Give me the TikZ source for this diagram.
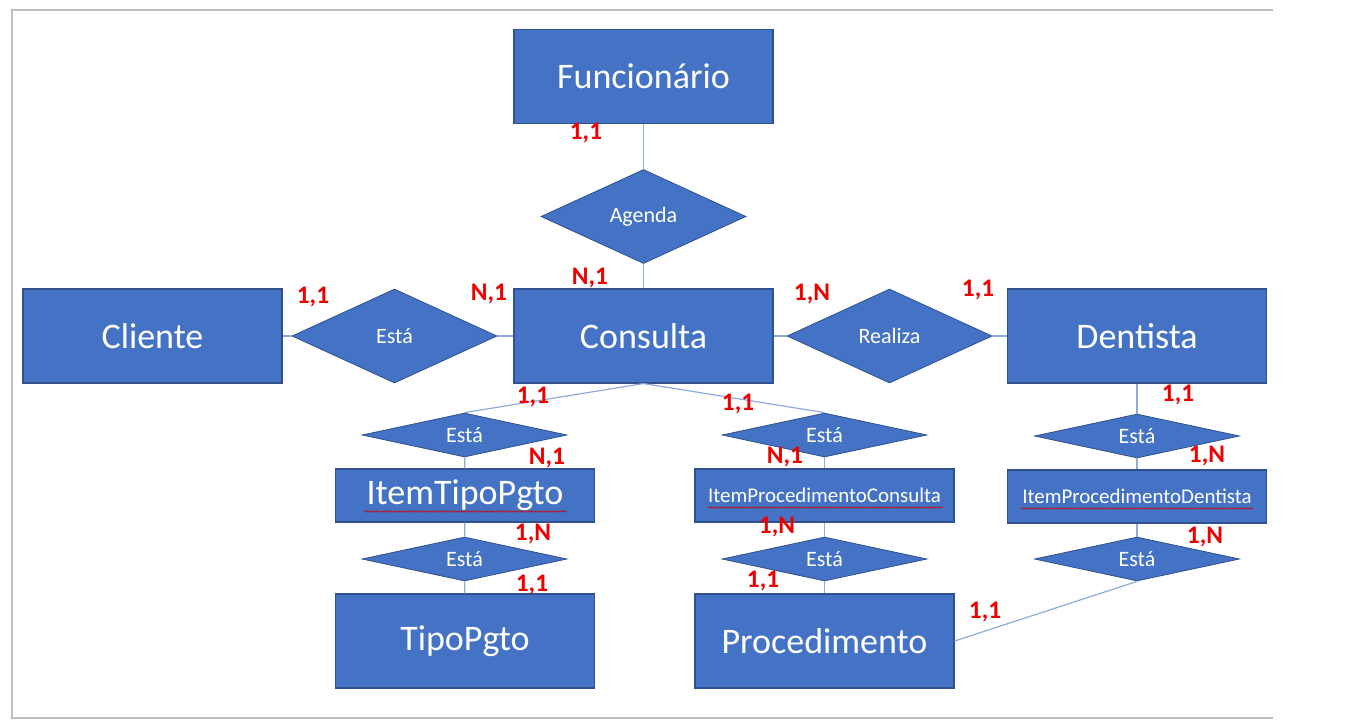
\documentclass[tikz,border=0pt]{standalone}
\usepackage{fontspec}
\setmainfont{Carlito}
\usetikzlibrary{shapes.geometric,decorations.pathmorphing}

\definecolor{entblue}{RGB}{68,114,196}
\definecolor{entedge}{RGB}{47,82,143}
\definecolor{linkblue}{RGB}{143,170,220}
\definecolor{framegray}{RGB}{191,191,191}
\definecolor{inkred}{RGB}{238,0,0}

\tikzset{
  entity/.style={draw=entedge,fill=entblue,text=white,line width=0.8pt,
    minimum width=194.25pt,minimum height=70.5pt,inner sep=0pt,
    font=\fontsize{27}{32}\selectfont},
  itembox/.style={entity,minimum height=39.75pt},
  relation/.style={draw=entedge,fill=entblue,text=white,line width=0.6pt,
    shape=diamond,aspect=2.2,inner sep=0pt,
    minimum width=153.75pt,minimum height=70.5pt,
    font=\fontsize{16.5}{19}\selectfont},
  smallrel/.style={relation,aspect=4.6,minimum height=33pt},
  link/.style={draw=linkblue,line width=0.9pt},
  card/.style={text=inkred,inner sep=0pt,font=\fontsize{19}{19}\bfseries},
  squiggle/.style={draw=red!80!black,line width=0.4pt,
    decorate,decoration={snake,amplitude=0.6pt,segment length=2.2pt}}
}

\begin{document}
\begin{tikzpicture}[x=0.75pt,y=0.75pt,yscale=-1,xscale=1]
\useasboundingbox (0,0) rectangle (1369,722);

%Frame
\draw [framegray,line width=1pt] (1273,10) -- (12,10) -- (12,718) -- (1273,718) ;

%Shape: Entities
\node [entity] (func) at (643.5,76.5) {Funcionário};
\node [entity] (consulta) at (643.5,336) {Consulta};
\node [entity] (cliente) at (152.5,336) {Cliente};
\node [entity] (dentista) at (1137,336) {Dentista};
\node [itembox] (itemTP) at (465,495.5) {ItemTipoPgto};
\node [entity] (tipoPgto) at (465,641) {TipoPgto};
\node [itembox,font=\fontsize{15.7}{18}\selectfont] (itemPC) at (824.5,495.5) {ItemProcedimentoConsulta};
\node [entity] (proced) at (824.5,641) {Procedimento};
\node [itembox,font=\fontsize{15.7}{18}\selectfont] (itemPD) at (1137,496.5) {ItemProcedimentoDentista};

%Shape: Relationships
\node [relation] (agenda) at (643.5,216.5) {Agenda};
\node [relation] (estaCli) at (394.5,336) {Está};
\node [relation] (realiza) at (889.5,336) {Realiza};
\node [smallrel] (estaTP1) at (464.5,435) {Está};
\node [smallrel] (estaTP2) at (464.5,559) {Está};
\node [smallrel] (estaPC1) at (824.5,435) {Está};
\node [smallrel] (estaPC2) at (824.5,559) {Está};
\node [smallrel] (estaPD1) at (1137,436) {Está};
\node [smallrel] (estaPD2) at (1137,559) {Está};

%Straight Lines
\draw [link] (func) -- (agenda) ;
\draw [link] (agenda) -- (consulta) ;
\draw [link] (cliente) -- (estaCli) ;
\draw [link] (estaCli) -- (consulta) ;
\draw [link] (consulta) -- (realiza) ;
\draw [link] (realiza) -- (dentista) ;
\draw [link] (consulta.south) -- (estaTP1.north) ;
\draw [link] (estaTP1) -- (itemTP) ;
\draw [link] (itemTP) -- (estaTP2) ;
\draw [link] (estaTP2) -- (tipoPgto) ;
\draw [link] (consulta.south) -- (estaPC1.north) ;
\draw [link] (estaPC1) -- (itemPC) ;
\draw [link] (itemPC) -- (estaPC2) ;
\draw [link] (estaPC2) -- (proced) ;
\draw [link] (dentista) -- (estaPD1) ;
\draw [link] (estaPD1) -- (itemPD) ;
\draw [link] (itemPD) -- (estaPD2) ;
\draw [link] (estaPD2.south) -- (proced.east) ;

%Spell check marks
\draw [squiggle] ([shift={(-101,16)}]itemTP.center) -- ([shift={(101,16)}]itemTP.center) ;
\draw [squiggle] ([shift={(-117,12)}]itemPC.center) -- ([shift={(118,12)}]itemPC.center) ;
\draw [squiggle] ([shift={(-116,12)}]itemPD.center) -- ([shift={(116,12)}]itemPD.center) ;

% Text Node: cardinalities
\node [card] (c1) at (586,133) {1,1};
\node [card] (c2) at (590,278) {N,1};
\node [card] (c3) at (313,297) {1,1};
\node [card] (c4) at (489,294) {N,1};
\node [card] (c5) at (812,294) {1,N};
\node [card] (c6) at (978,290) {1,1};
\node [card] (c7) at (533,397) {1,1};
\node [card] (c8) at (738,404) {1,1};
\node [card] (c9) at (1178,395) {1,1};
\node [card] (c10) at (547,458) {N,1};
\node [card] (c11) at (785,457) {N,1};
\node [card] (c12) at (1207,456) {1,N};
\node [card] (c13) at (533,534) {1,N};
\node [card] (c14) at (777,527) {1,N};
\node [card] (c15) at (1205,537) {1,N};
\node [card] (c16) at (532,585) {1,1};
\node [card] (c17) at (763,581) {1,1};
\node [card] (c18) at (985,612) {1,1};

\end{tikzpicture}
\end{document}
